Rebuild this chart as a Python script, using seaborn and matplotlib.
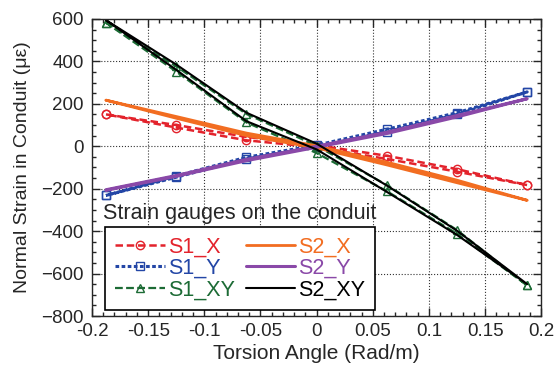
import pandas as pd
import numpy as np
import seaborn as sns
import matplotlib.pyplot as plt
from matplotlib.ticker import MultipleLocator

# Data: two branches per gauge (loading / unloading)
angle = [-0.1875, -0.125, -0.0625, 0.0, 0.0625, 0.125, 0.1875]

s1_x_a = [150, 100, 44, 5, -45, -108, -183]
s1_x_b = [150, 88, 28, -5, -60, -120, -183]
s1_y_a = [-232, -140, -52, 5, 80, 158, 256]
s1_y_b = [-232, -146, -60, -3, 68, 150, 256]
s1_xy_a = [582, 376, 152, 2, -183, -395, -656]
s1_xy_b = [582, 352, 112, -32, -212, -412, -656]
s2_x_a = [217, 140, 62, 2, -75, -160, -255]
s2_x_b = [217, 132, 50, -8, -88, -172, -255]
s2_y_a = [-205, -138, -62, 0, 66, 145, 224]
s2_y_b = [-208, -142, -68, -5, 60, 138, 224]
s2_xy_a = [594, 385, 158, 12, -185, -398, -650]
s2_xy_b = [594, 360, 118, -15, -215, -418, -650]

gauges = ['S1_X', 'S1_Y', 'S1_XY', 'S2_X', 'S2_Y', 'S2_XY']
branches = {
    'S1_X': (s1_x_a, s1_x_b), 'S1_Y': (s1_y_a, s1_y_b), 'S1_XY': (s1_xy_a, s1_xy_b),
    'S2_X': (s2_x_a, s2_x_b), 'S2_Y': (s2_y_a, s2_y_b), 'S2_XY': (s2_xy_a, s2_xy_b),
}

# styles
colors = {'S1_X': '#e3232c', 'S1_Y': '#2346a6', 'S1_XY': '#1c6b35',
          'S2_X': '#f26d21', 'S2_Y': '#8a49a8', 'S2_XY': '#000000'}
markers = {'S1_X': 'o', 'S1_Y': 's', 'S1_XY': '^', 'S2_X': '', 'S2_Y': '', 'S2_XY': ''}
dashes = {'S1_X': (3, 1.5), 'S1_Y': (1.2, 0.8), 'S1_XY': (3.5, 1.5)}
widths = {'S1_X': 1.8, 'S1_Y': 2.2, 'S1_XY': 1.6, 'S2_X': 2.0, 'S2_Y': 2.2, 'S2_XY': 1.5}

rows = []
for g in gauges:
    a, b = branches[g]
    xs = angle + angle[::-1]
    ys = a + b[::-1]
    for i, (x, y) in enumerate(zip(xs, ys)):
        rows.append({'gauge': g, 'angle': x, 'strain': y, 'order': i})
df = pd.DataFrame(rows)

sns.set_style('ticks')
plt.rcParams['font.family'] = ['Liberation Sans', 'DejaVu Sans']
plt.rcParams['xtick.direction'] = 'in'
plt.rcParams['ytick.direction'] = 'in'

fig = plt.figure(figsize=(5.54, 3.78), dpi=100)
ax = fig.add_axes([0.166, 0.164, 0.811, 0.786])

for g in gauges:
    sub = df[df['gauge'] == g]
    kw = dict(color=colors[g], lw=widths[g], label=g)
    if markers[g]:
        kw.update(marker=markers[g], markersize=6, markerfacecolor='none',
                  markeredgecolor=colors[g], markeredgewidth=1.0, dashes=dashes[g])
    sns.lineplot(data=sub, x='angle', y='strain', sort=False, estimator=None,
                 ax=ax, **kw)

ax.set_xlim(-0.2, 0.2)
ax.set_ylim(-800, 600)
ax.xaxis.set_major_locator(MultipleLocator(0.05))
ax.xaxis.set_minor_locator(MultipleLocator(0.01))
ax.yaxis.set_major_locator(MultipleLocator(200))
ax.yaxis.set_minor_locator(MultipleLocator(50))
ax.set_xticks(np.arange(-0.2, 0.2001, 0.05))
ax.set_xticklabels(['-0.2', '-0.15', '-0.1', '-0.05', '0', '0.05', '0.1', '0.15', '0.2'])
ax.tick_params(which='both', top=True, right=True, labelsize=13.5, width=1)
ax.tick_params(axis='x', which='major', length=6, pad=5)
ax.tick_params(axis='y', which='major', length=6, pad=6)
ax.tick_params(which='minor', length=3)
ax.grid(True, which='major', linestyle=':', color='#333333', lw=0.8)
for s in ax.spines.values():
    s.set_linewidth(1.0)

ax.set_xlabel('Torsion Angle (Rad/m)', fontsize=15, labelpad=3)
ax.set_ylabel('Normal Strain in Conduit (με)', fontsize=14, labelpad=7)

ax.text(0.025, 0.345, 'Strain gauges on the conduit', transform=ax.transAxes,
        fontsize=15.5, va='center', ha='left')
leg = ax.legend(loc='lower left', bbox_to_anchor=(0.03, 0.02), ncol=2,
                fontsize=15.5, labelcolor='linecolor', frameon=True, fancybox=False,
                framealpha=1, edgecolor='black', handlelength=2.3, handletextpad=0.15,
                columnspacing=0.5, labelspacing=0.02, borderpad=0.45, borderaxespad=0)
leg.get_frame().set_linewidth(1.2)

plt.savefig('out.png', dpi=100)
